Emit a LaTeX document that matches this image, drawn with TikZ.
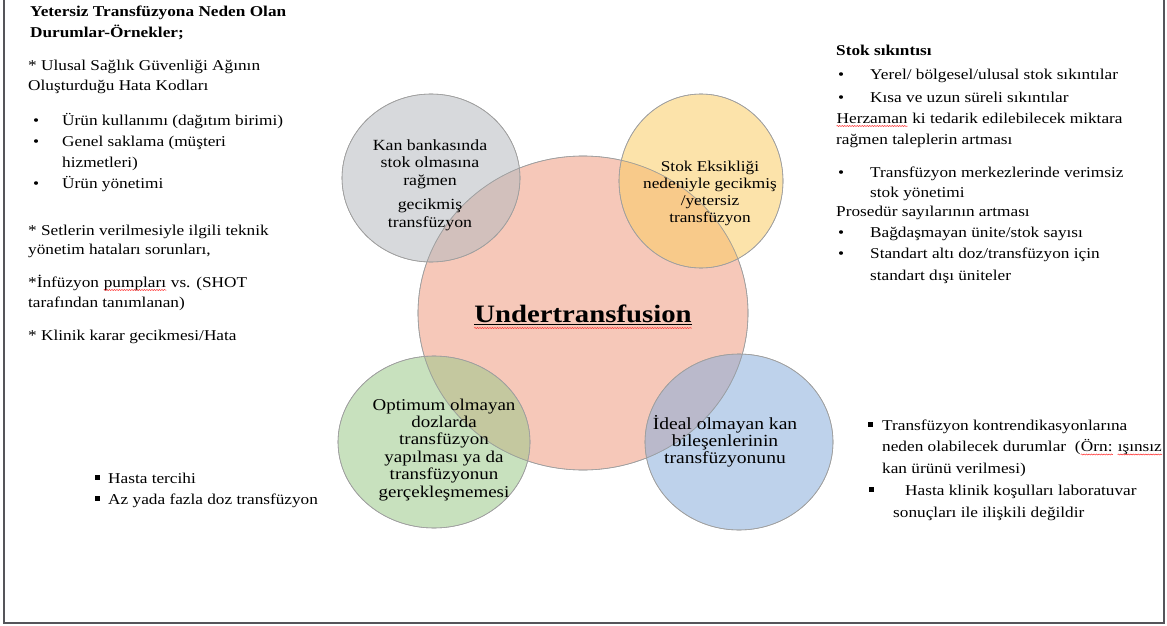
\documentclass[tikz,border=0pt]{standalone}
\usepackage{fontspec}
\setmainfont{Liberation Serif}[FakeStretch=1.15]
\usepackage{xcolor}
\usepackage{tikz}
\usetikzlibrary{decorations.pathmorphing}
\definecolor{undred}{RGB}{239,155,128}
\definecolor{stokgray}{RGB}{182,186,191}
\definecolor{stokyel}{RGB}{250,204,100}
\definecolor{dozgreen}{RGB}{155,200,137}
\definecolor{kanblue}{RGB}{137,173,218}
\definecolor{framegray}{RGB}{85,85,90}
\tikzset{spell/.style={red!85,line width=.5pt,decorate,decoration={snake,amplitude=.5pt,segment length=2.5pt}}}
\newcommand\spellwave[1]{\tikz[baseline=(w.base)]{\node[inner sep=0pt,anchor=base](w){#1};\draw[spell]([yshift=-3pt]w.base west)--([yshift=-3pt]w.base east);}}
\newcommand\bl[1]{\makebox[#1][l]{\textbullet}}
\newcommand\sqb[1]{\makebox[#1][l]{\rule[0.22em]{0.3em}{0.3em}}}

\begin{document}
\begin{tikzpicture}[x=1pt,y=-1pt,
  blob/.style={draw=gray!75,line width=0.6pt,fill opacity=0.55},
  txt/.style={inner sep=0pt,align=left,anchor=base west,font=\fontsize{15}{21}\selectfont},
  ctxt/.style={inner sep=0pt,align=center,anchor=base}]
\useasboundingbox(0,0)rectangle(1167,626);
\draw[framegray,line width=1.5pt](4,0)--(4,623)--(1164,623)--(1164,0);
\fill[blob,fill=undred](583,313)ellipse[x radius=165pt,y radius=157pt];
\fill[blob,fill=stokgray](431,178)ellipse[x radius=89pt,y radius=84pt];
\fill[blob,fill=stokyel](701,181)ellipse[x radius=82pt,y radius=87pt];
\fill[blob,fill=dozgreen](434,442)ellipse[x radius=96pt,y radius=86pt];
\fill[blob,fill=kanblue](739,442)ellipse[x radius=94pt,y radius=88pt];
\draw[blob](583,313)ellipse[x radius=165pt,y radius=157pt]
(431,178)ellipse[x radius=89pt,y radius=84pt]
(701,181)ellipse[x radius=82pt,y radius=87pt]
(434,442)ellipse[x radius=96pt,y radius=86pt]
(739,442)ellipse[x radius=94pt,y radius=88pt];
\node[ctxt,font=\fontsize{25}{30}\selectfont\bfseries](under)at(583,322){\underline{Undertransfusion}};
\draw[spell]([yshift=-6pt]under.base west)--([yshift=-6pt]under.base east);
\node[ctxt,font=\fontsize{15.5}{17.5}\selectfont](kanbank)at(430,227){Kan bankasında\\stok olmasına\\rağmen\\[7pt]gecikmiş\\transfüzyon};
\node[ctxt,font=\fontsize{15}{16.8}\selectfont](eksik)at(710,222){Stok Eksikliği\\nedeniyle gecikmiş\\/yetersiz\\transfüzyon};
\node[ctxt,font=\fontsize{16.5}{17.4}\selectfont](optdoz)at(444,497){Optimum olmayan\\dozlarda\\transfüzyon\\yapılması ya da\\transfüzyonun\\gerçekleşmemesi};
\node[ctxt,font=\fontsize{17}{16.6}\selectfont](ideal)at(725,463){İdeal olmayan kan\\bileşenlerinin\\transfüzyonunu};
\node[txt,font=\fontsize{15}{21}\selectfont\bfseries](baslik)at(30,38){Yetersiz Transfüzyona Neden Olan\\Durumlar-Örnekler;};
\node[txt,font=\fontsize{15}{20}\selectfont](kodlar)at(28,90){* Ulusal Sağlık Güvenliği Ağının\\Oluşturduğu Hata Kodları};
\node[txt,font=\fontsize{15}{21}\selectfont](urun)at(33,188){\bl{29pt}Ürün kullanımı (dağıtım birimi)\\\bl{29pt}Genel saklama (müşteri\\\hspace*{29pt}hizmetleri)\\\bl{29pt}Ürün yönetimi};
\node[txt,font=\fontsize{15}{19.5}\selectfont](setler)at(28,254.5){* Setlerin verilmesiyle ilgili teknik\\yönetim hataları sorunları,};
\node[txt,font=\fontsize{15}{20}\selectfont](pompa)at(28,307){*İnfüzyon \spellwave{pumpları} vs. (SHOT\\tarafından tanımlanan)};
\node[txt](karar)at(28,340){* Klinik karar gecikmesi/Hata};
\node[txt,font=\fontsize{15}{21}\selectfont\bfseries](stok)at(836,56){Stok sıkıntısı};
\node[txt,font=\fontsize{15}{22}\selectfont](yerel)at(838,102){\bl{32pt}Yerel/ bölgesel/ulusal stok sıkıntılar\\\bl{32pt}Kısa ve uzun süreli sıkıntılar};
\node[txt,font=\fontsize{15}{21.5}\selectfont](herz)at(836,144.5){\spellwave{Herzaman} ki tedarik edilebilecek miktara\\rağmen taleplerin artması};
\node[txt,font=\fontsize{15}{20}\selectfont](verimsiz)at(838,197){\bl{32pt}Transfüzyon merkezlerinde verimsiz\\\hspace*{32pt}stok yönetimi};
\node[txt](prosedur)at(836,216){Prosedür sayılarının artması};
\node[txt,font=\fontsize{15}{21.5}\selectfont](unite)at(838,280){\bl{32pt}Bağdaşmayan ünite/stok sayısı\\\bl{32pt}Standart altı doz/transfüzyon için\\\hspace*{32pt}standart dışı üniteler};
\node[txt,font=\fontsize{15}{21}\selectfont](hasta)at(95,504){\sqb{13pt}Hasta tercihi\\\sqb{13pt}Az yada fazla doz transfüzyon};
\node[txt,font=\fontsize{15}{21.5}\selectfont](kontr)at(868,473){\sqb{14pt}Transfüzyon kontrendikasyonlarına\\\hspace*{14pt}neden olabilecek durumlar\ \ (\spellwave{Örn:} \spellwave{ışınsız}\\\hspace*{14pt}kan ürünü verilmesi)};
\node[txt,font=\fontsize{15}{22}\selectfont](klinik)at(869,517){\sqb{36pt}Hasta klinik koşulları laboratuvar\\\hspace*{24pt}sonuçları ile ilişkili değildir};
\end{tikzpicture}
\end{document}
